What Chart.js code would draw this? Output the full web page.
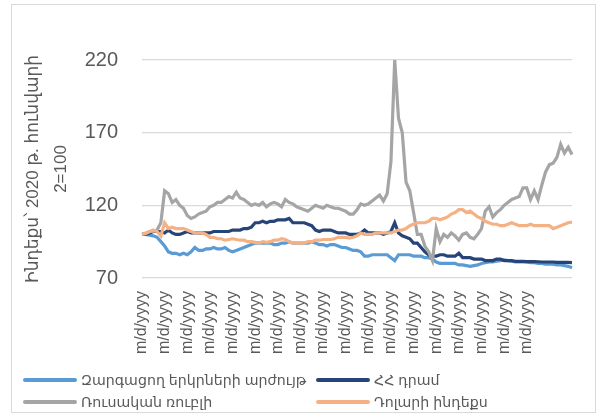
<!DOCTYPE html>
<html>
<head>
<meta charset="utf-8">
<script src="https://cdn.jsdelivr.net/npm/chart.js@4/dist/chart.umd.min.js"></script>
<style>
  html, body { margin: 0; padding: 0; background: #ffffff; }
  #wrap { position: relative; width: 605px; height: 417px; overflow: hidden; }
  #frame { position: absolute; left: 11px; top: 4px; width: 585px; height: 409px; border: 1px solid #d9d9d9; box-sizing: border-box; }
  canvas { position: absolute; left: 0; top: 0; }
  #legend { position: absolute; left: 0; top: 0; width: 605px; height: 417px; pointer-events: none;
            font-family: 'Liberation Sans', 'DejaVu Sans', sans-serif; font-size: 14.2px; color: #595959; }
  .item { position: absolute; display: flex; align-items: center; white-space: nowrap; }
  .swatch { width: 54px; height: 4px; margin-right: 4px; border-radius: 2px; }
</style>
</head>
<body>
<div id="wrap">
  <div id="frame"></div>
  <canvas id="c" width="605" height="417"></canvas>
  <div id="legend"></div>
</div>
<script>
const seriesNames = ["Զարգացող երկրների արժույթ", "ՀՀ դրամ", "Ռուսական ռուբլի", "Դոլարի ինդեքս"];
const seriesColors = ["#5b9bd5", "#264478", "#a5a5a5", "#f4b183"];
const yTitle = ["Ինդեքս՝ 2020 թ. հունվարի", "2=100"];
const yTicks = [70, 120, 170, 220];
const tickLabel = "m/d/yyyy";
const labelEvery = 6;
const labelCount = 18;

const developing = [
  100,100,99.5,99,98,95,92,88,87,87,
  86,87,86,88,91,89,89,90,90,91,
  90,90,91,89,88,89,90,91,92,93,
  94,94,94,94,94,93,93,94,94,95,
  94,94,94,94,94,95,94,93,93,92,
  93,93,92,91,91,90,89,89,88,85,
  85,86,86,86,86,86,84,82,86,86,
  86,86,85,85,85,84,84,83,81,80,
  80,80,80,80,79,79,78.5,78,78.5,79,
  80,80.5,81,81,81.5,82,82.5,82,81.5,81,
  81,81,81,80.5,80.5,80,80,79.5,79.5,79.5,
  79,79,78.5,78,77
];
const dram = [
  100,100,101,102,102,102,101,103,101,100,
  100,101,102,101,101,101,101,101,101,102,
  102,102,102,102,103,103,103,104,104,105,
  108,108,109,108,109,109,110,110,110,111,
  108,108,108,108,107,106,103,102,103,103,
  103,102,101,101,101,100,100,100,101,103,
  101,101,101,101,100,101,102,108,101,99,
  98,97,94,94,91,88,86,85,85,86,
  86,85,85,85,87,84,84,84,83,83,
  83,82,82,82,83,83,82,82,82,81.5,
  81.5,81.5,81.3,81.3,81.3,81.2,81,81,81,81,
  80.8,80.8,80.7,80.7,80.6
];
const ruble = [
  100,100.5,102,102,103,108,130,128,122,124,
  120,118,113,111,112,114,115,116,119,120,
  122,122,124,126,125,129,125,124,122,120,
  121,120,122,119,121,122,121,119,124,122,
  121,119,118,117,116,118,120,119,118,120,
  119,118,118,117,116,114,114,117,121,120,
  121,123,125,127,123,128,150,220,180,170,
  136,130,115,100,100,92,88,82,104,95,
  100,98,101,99,96,100,101,98,97,100,
  104,116,119,112,115,117,120,122,124,125,
  126,132,132,124,130,124,134,143,148,149,
  153,162,156,160,155
];
const dollarIndex = [
  100,101,102,103,102,99,108,104,105,104,
  104,104,103,102,101,101,101,100,98,98,
  97,97,96,96.5,97,96.5,96,96,95,95,
  94.5,94,95,94.5,95,96,96,97,96.5,95,
  94,94,94,94,95,95,96,96,96.5,96.5,
  96.5,97,98,98,98,97.5,98,99,101,100,
  100,100,101,101,101,101,101,102,103,103,
  104,106,107,108,108,108,109,111,111,110,
  111,112,114,115,117,117,115,116,114,112,
  111,109,108,107,107,106,106,107,108,107,
  106,106,106,107,106,106,106,106,106,104,
  105,106,107,108,108.5
];
const categories = developing.map(() => tickLabel);

const seriesData = [developing, dram, ruble, dollarIndex];
const drawOrder = [3, 2, 1, 0];

const FONT = "'Liberation Sans', 'DejaVu Sans', sans-serif";

const chart = new Chart(document.getElementById('c'), {
  type: 'line',
  data: {
    labels: categories,
    datasets: seriesData.map((d, i) => ({
      label: seriesNames[i],
      data: d,
      borderColor: seriesColors[i],
      backgroundColor: seriesColors[i],
      borderWidth: 3.2,
      pointRadius: 0,
      tension: 0,
      fill: false,
      order: drawOrder[i]
    }))
  },
  options: {
    responsive: false,
    animation: false,
    devicePixelRatio: 1,
    layout: { padding: { left: 0, right: 33, top: 60, bottom: 0 } },
    plugins: { legend: { display: false }, tooltip: { enabled: false } },
    scales: {
      x: {
        type: 'category',
        offset: false,
        grid: { display: false, drawTicks: false },
        border: { display: false },
        ticks: {
          autoSkip: false,
          minRotation: 90,
          maxRotation: 90,
          padding: 13,
          color: '#595959',
          font: { family: FONT, size: 16 },
          callback: function (v, i) {
            return (i % labelEvery === 0 && i / labelEvery < labelCount) ? categories[i] : null;
          }
        },
        afterFit: (s) => { s.height = 139; }
      },
      y: {
        min: yTicks[0],
        max: yTicks[yTicks.length - 1],
        afterBuildTicks: (s) => { s.ticks = yTicks.map(v => ({ value: v })); },
        grid: { color: '#d9d9d9', lineWidth: 1.3, drawTicks: false },
        border: { display: false },
        ticks: {
          padding: 24,
          color: '#595959',
          font: { family: FONT, size: 20 }
        },
        title: {
          display: true,
          text: yTitle,
          color: '#595959',
          font: { family: FONT, size: 17, lineHeight: 1.65 },
          padding: { top: 19, bottom: 0 }
        },
        afterFit: (s) => { s.width = 142; }
      }
    }
  }
});

// HTML legend built from the chart's datasets
const legendPos = [
  { left: 23, top: 372 }, { left: 316, top: 372 },
  { left: 23, top: 394 }, { left: 316, top: 394 }
];
const legendEl = document.getElementById('legend');
chart.data.datasets.forEach((ds, i) => {
  const it = document.createElement('div');
  it.className = 'item';
  it.style.left = legendPos[i].left + 'px';
  it.style.top = legendPos[i].top + 'px';
  const sw = document.createElement('span');
  sw.className = 'swatch';
  sw.style.background = ds.borderColor;
  const tx = document.createElement('span');
  tx.textContent = ds.label;
  it.appendChild(sw);
  it.appendChild(tx);
  legendEl.appendChild(it);
});
</script>
</body>
</html>
